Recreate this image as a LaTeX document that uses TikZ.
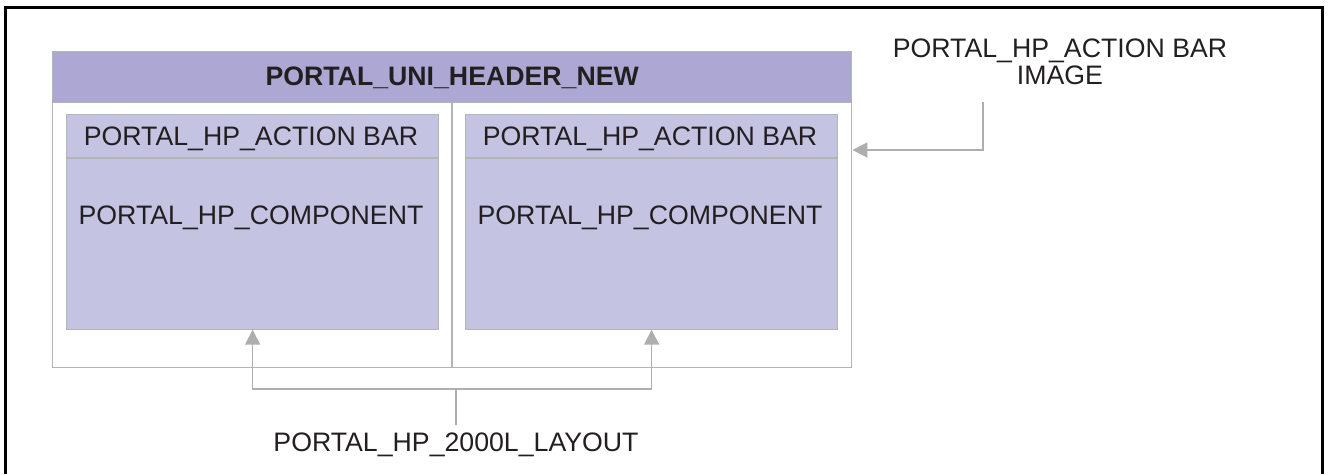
\documentclass[tikz,border=0pt]{standalone}
\usepackage{fontspec}
\setmainfont{Liberation Sans}
\usetikzlibrary{arrows.meta}
\definecolor{hdrfill}{HTML}{ADA8D3}
\definecolor{boxfill}{HTML}{C5C3E2}
\definecolor{edge}{HTML}{B4B4B4}
\definecolor{conn}{HTML}{AEAEAE}
\definecolor{txt}{HTML}{231F20}
\tikzset{
  lbl/.style={inner sep=0pt, text=txt, font=\fontsize{26.7}{27}\selectfont},
  panel/.style={draw=edge, line width=1.2pt, fill=boxfill},
  connector/.style={draw=conn, line width=1.6pt},
  arrowed/.style={connector, -{Triangle[length=15pt,width=15pt]}}
}
\begin{document}
\begin{tikzpicture}[x=1pt,y=-1pt]
\useasboundingbox (0,0) rectangle (1328,474);
% outer frame (open at the bottom)
\draw[line width=3pt, black] (5.5,474) -- (5.5,7.5) -- (1322.5,7.5) -- (1322.5,474);
% container
\node[draw=edge, line width=1.4pt, fill=white, minimum width=799pt, minimum height=316pt, inner sep=0pt, anchor=north west] (cont) at (52,50.5) {};
\node[draw=edge, line width=1.4pt, fill=hdrfill, minimum width=799pt, minimum height=51pt, inner sep=0pt, anchor=north west] (hdr) at (52,50.5) {};
\node[lbl, font=\fontsize{26.7}{27}\selectfont\bfseries] (hdrtxt) at ([yshift=-1.5pt]hdr.center) {PORTAL\_UNI\_HEADER\_NEW};
\draw[draw=edge, line width=1.4pt] (hdr.south -| 452,0) -- (cont.south -| 452,0);
% left panel
\node[panel, minimum width=372pt, minimum height=215pt, inner sep=0pt, anchor=north west] (lb) at (66,113.5) {};
\draw[draw=edge, line width=1.2pt] (66,158) -- (438,158);
\node[lbl] (lbbar) at (251,139) {PORTAL\_HP\_ACTION BAR};
\node[lbl] (lbcomp) at (251,218) {PORTAL\_HP\_COMPONENT};
% right panel
\node[panel, minimum width=372pt, minimum height=215pt, inner sep=0pt, anchor=north west] (rb) at (465,113.5) {};
\draw[draw=edge, line width=1.2pt] (465,158) -- (837,158);
\node[lbl] (rbbar) at (650,139) {PORTAL\_HP\_ACTION BAR};
\node[lbl] (rbcomp) at (650,218) {PORTAL\_HP\_COMPONENT};
% right label and connector
\node[lbl, align=center] (imglbl) at (1060,62) {PORTAL\_HP\_ACTION BAR\\IMAGE};
\coordinate (imgstart) at (983,102);
\draw[arrowed] (imgstart) |- (cont.east |- 0,150);
% bottom label and connectors
\node[lbl] (layout) at (456,445) {PORTAL\_HP\_2000L\_LAYOUT};
\coordinate (laystart) at (456,425);
\coordinate (fork) at (456,389);
\draw[connector] (laystart) -- (fork);
\draw[arrowed] (fork) -| (lb.south);
\draw[arrowed] (fork) -| (rb.south);
\end{tikzpicture}
\end{document}
